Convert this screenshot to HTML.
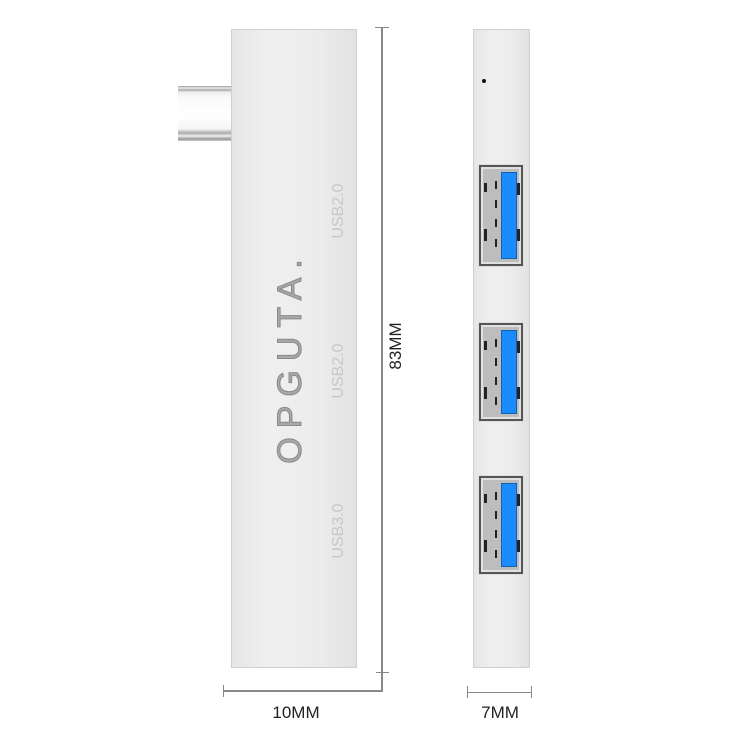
<!DOCTYPE html>
<html><head><meta charset="utf-8"><style>
body{margin:0;width:750px;height:750px;background:#fff;position:relative;overflow:hidden;font-family:"Liberation Sans",sans-serif}
.a{position:absolute}
.body{background:linear-gradient(90deg,#e6e6e6,#efefef 30%,#ececec 70%,#e2e2e2);border:1px solid #cfcfcf;box-sizing:border-box}
.port{position:absolute;left:479px;width:44px;border:2px solid #555;box-sizing:border-box;background:#bdbdbd;box-shadow:0 0 0 2px #e0e0e0 inset,0 0 0 1px #ddd}
.blue{position:absolute;left:20px;top:5px;width:16px;bottom:5px;background:#1a8cff;border:1px solid #1460b0;box-sizing:border-box}
.p{position:absolute;background:#222}
.lbl{position:absolute;color:#c8c8c8;font-size:16px;transform:rotate(-90deg);transform-origin:center;white-space:nowrap}
.ln{position:absolute;background:#888}
</style></head><body>
<div class="a" style="left:178px;top:86px;width:54px;height:55px;background:linear-gradient(180deg,#999 0,#eee 2px,#aaa 4px,#eee 6px,#fafafa 12px,#fff 30px,#f5f5f5 43px,#aaa 47px,#eee 50px,#999 53px,#ccc 55px)"></div>
<div class="a body" style="left:231px;top:29px;width:126px;height:639px"></div>
<div class="lbl" style="left:309px;top:202px;width:60px;text-align:center">USB2.0</div>
<div class="lbl" style="left:309px;top:362px;width:60px;text-align:center">USB2.0</div>
<div class="lbl" style="left:309px;top:522px;width:60px;text-align:center">USB3.0</div>
<div class="a" style="left:180px;top:339px;width:220px;text-align:center;transform:rotate(-90deg);font-size:34px;letter-spacing:9px;line-height:36px;color:#a8a8a8;-webkit-text-stroke:1px #8a8a8a">OPGUTA.</div>
<div class="a body" style="left:473px;top:29px;width:57px;height:639px"></div>
<div class="a" style="left:482px;top:79px;width:4px;height:4px;border-radius:2px;background:#111"></div>
<div class="port" style="top:165px;height:101px"><div class="blue"></div>
<div class="p" style="left:3px;top:16px;width:3px;height:9px"></div><div class="p" style="left:3px;top:62px;width:3px;height:12px"></div>
<div class="p" style="left:14px;top:14px;width:2px;height:8px"></div><div class="p" style="left:14px;top:33px;width:2px;height:8px"></div><div class="p" style="left:14px;top:52px;width:2px;height:8px"></div><div class="p" style="left:14px;top:72px;width:2px;height:8px"></div>
<div class="p" style="left:36px;top:16px;width:3px;height:12px"></div><div class="p" style="left:36px;top:62px;width:3px;height:12px"></div></div>
<div class="port" style="top:323px;height:98px"><div class="blue"></div>
<div class="p" style="left:3px;top:16px;width:3px;height:9px"></div><div class="p" style="left:3px;top:62px;width:3px;height:12px"></div>
<div class="p" style="left:14px;top:14px;width:2px;height:8px"></div><div class="p" style="left:14px;top:33px;width:2px;height:8px"></div><div class="p" style="left:14px;top:52px;width:2px;height:8px"></div><div class="p" style="left:14px;top:72px;width:2px;height:8px"></div>
<div class="p" style="left:36px;top:16px;width:3px;height:12px"></div><div class="p" style="left:36px;top:62px;width:3px;height:12px"></div></div>
<div class="port" style="top:476px;height:98px"><div class="blue"></div>
<div class="p" style="left:3px;top:16px;width:3px;height:9px"></div><div class="p" style="left:3px;top:62px;width:3px;height:12px"></div>
<div class="p" style="left:14px;top:14px;width:2px;height:8px"></div><div class="p" style="left:14px;top:33px;width:2px;height:8px"></div><div class="p" style="left:14px;top:52px;width:2px;height:8px"></div><div class="p" style="left:14px;top:72px;width:2px;height:8px"></div>
<div class="p" style="left:36px;top:16px;width:3px;height:12px"></div><div class="p" style="left:36px;top:62px;width:3px;height:12px"></div></div>
<div class="ln" style="left:381px;top:27px;width:2px;height:665px"></div>
<div class="ln" style="left:375px;top:27px;width:14px;height:1px"></div>
<div class="ln" style="left:376px;top:672px;width:13px;height:1px"></div>
<div class="ln" style="left:224px;top:690px;width:159px;height:2px"></div>
<div class="ln" style="left:223px;top:685px;width:1px;height:12px"></div>
<div class="ln" style="left:467px;top:692px;width:64px;height:1px"></div>
<div class="ln" style="left:467px;top:686px;width:1px;height:12px"></div>
<div class="ln" style="left:531px;top:686px;width:1px;height:12px"></div>
<div class="a" style="left:356px;top:336px;width:80px;text-align:center;transform:rotate(-90deg);font-size:17px;color:#222">83MM</div>
<div class="a" style="left:256px;top:703px;width:80px;text-align:center;font-size:17px;color:#222">10MM</div>
<div class="a" style="left:460px;top:703px;width:80px;text-align:center;font-size:17px;color:#222">7MM</div>
</body></html>
